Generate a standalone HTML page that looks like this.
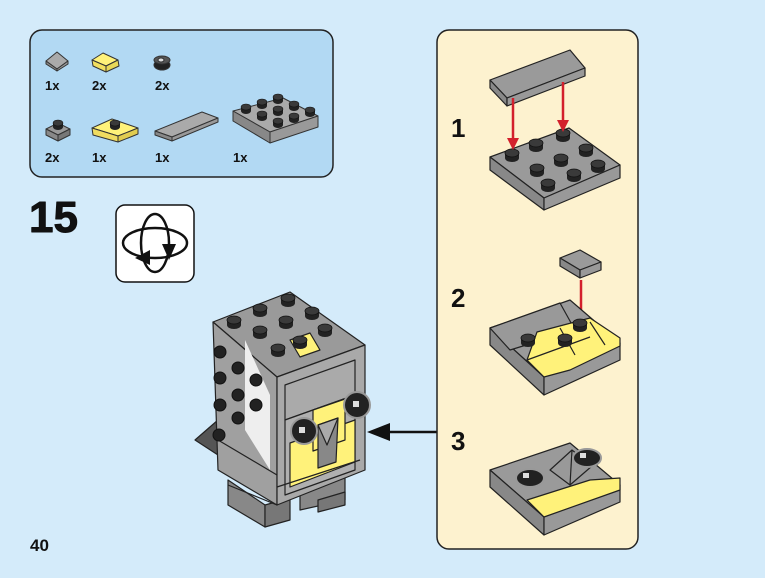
<!DOCTYPE html>
<html><head><meta charset="utf-8"><style>
body{margin:0;width:765px;height:578px;overflow:hidden;background:#d4ebfa;font-family:"Liberation Sans",Arial,sans-serif}
svg{position:absolute;left:0;top:0}
</style></head><body>
<svg width="765" height="578" viewBox="0 0 765 578" xmlns="http://www.w3.org/2000/svg" font-family="Liberation Sans, Arial, sans-serif" font-weight="bold" stroke-linejoin="round">
<defs>
<g id="stud"><ellipse cx="0" cy="3" rx="7" ry="4" fill="#222"/><rect x="-7" y="-2" width="14" height="5" fill="#222"/><ellipse cx="0" cy="-2" rx="7" ry="4" fill="#3a3a3a" stroke="#111" stroke-width="0.8"/></g>
<g id="sstud"><ellipse cx="0" cy="2" rx="5" ry="3" fill="#222"/><rect x="-5" y="-2" width="10" height="4" fill="#222"/><ellipse cx="0" cy="-2" rx="5" ry="3" fill="#3a3a3a" stroke="#111" stroke-width="0.6"/></g>
</defs>
<!-- parts box -->
<rect x="30" y="30" width="303" height="147" rx="12" fill="#b2d9f3" stroke="#222" stroke-width="1.5"/>
<g stroke="#333" stroke-width="1">
<polygon points="46,61 57,52 68,61 57,69" fill="#aaa"/><polygon points="46,61 57,69 57,71 46,64" fill="#888"/><polygon points="57,69 68,61 68,64 57,71" fill="#999"/>
<polygon points="92,60 103,53 118,60 106,66" fill="#fff27a"/><polygon points="92,60 106,66 106,72 93,66" fill="#f2e060"/><polygon points="106,66 118,60 119,66 106,72" fill="#e8d858"/>
<ellipse cx="162" cy="65" rx="8" ry="5" fill="#222"/><ellipse cx="162" cy="60" rx="8" ry="4" fill="#555"/><ellipse cx="161" cy="60" rx="3" ry="2" fill="#ddd"/>
<polygon points="46,129 58,123 70,129 58,135" fill="#999"/><polygon points="46,129 58,135 58,141 46,135" fill="#888"/><polygon points="58,135 70,129 70,135 58,141" fill="#777"/>
<polygon points="92,128 112,119 138,128 118,136" fill="#fff27a"/><polygon points="92,128 118,136 118,142 93,135" fill="#f0dc60"/><polygon points="118,136 138,128 138,134 118,142" fill="#e0cc50"/>
<polygon points="155,131 202,112 218,118 172,137" fill="#aaa"/><polygon points="155,131 172,137 172,141 155,135" fill="#888"/><polygon points="172,137 218,118 218,122 172,141" fill="#999"/>
<polygon points="233,111 283,98 318,116 270,132" fill="#aaa"/><polygon points="233,111 270,132 270,143 233,121" fill="#888"/><polygon points="270,132 318,116 318,127 270,143" fill="#999"/>
</g>
<use href="#sstud" x="58" y="125"/><use href="#sstud" x="115" y="125"/>
<g><use href="#sstud" x="246" y="109"/><use href="#sstud" x="262" y="104"/><use href="#sstud" x="278" y="99"/><use href="#sstud" x="262" y="116"/><use href="#sstud" x="278" y="111"/><use href="#sstud" x="294" y="106"/><use href="#sstud" x="278" y="123"/><use href="#sstud" x="294" y="118"/><use href="#sstud" x="310" y="112"/></g>
<g font-size="13" fill="#111"><text x="45" y="90">1x</text><text x="92" y="90">2x</text><text x="155" y="90">2x</text><text x="45" y="162">2x</text><text x="92" y="162">1x</text><text x="155" y="162">1x</text><text x="233" y="162">1x</text></g>
<text x="29" y="232" font-size="44" fill="#111" stroke="#111" stroke-width="1">15</text>
<!-- rotate icon -->
<rect x="116" y="205" width="78" height="77" rx="9" fill="#fff" stroke="#111" stroke-width="1.5"/>
<g fill="none" stroke="#111" stroke-width="2.5"><ellipse cx="155" cy="243" rx="14" ry="29"/><ellipse cx="155" cy="243" rx="32" ry="15"/></g>
<polygon points="162,244 176,244 169,260" fill="#111"/><polygon points="150,265 150,250 135,258" fill="#111"/>
<!-- main model -->
<g stroke="#222" stroke-width="1.2">
<polygon points="195,440 218,420 218,455" fill="#555"/>
<polygon points="228,480 265,505 265,527 228,505" fill="#888"/><polygon points="265,505 290,498 290,520 265,527" fill="#777"/>
<polygon points="300,490 345,477 345,500 300,510" fill="#888"/><polygon points="318,500 345,492 345,505 318,512" fill="#777"/>
<polygon points="213,322 290,292 365,345 277,377" fill="#9a9a9a"/>
<polygon points="213,322 277,377 277,505 218,470" fill="#a0a0a0"/>
<polygon points="277,377 365,345 365,470 277,505" fill="#a9a9a9"/>
<polygon points="245,340 270,395 270,470 245,430" fill="#eee" stroke="none"/>
<polygon points="285,385 355,360 355,395 285,420" fill="#aaa"/>
<polygon points="285,420 355,395 355,470 285,495" fill="#b0b0b0"/>
<polygon points="290,443 355,420 355,462 290,487" fill="#fff27a"/>
<polygon points="313,410 345,399 345,440 313,451" fill="#fff27a"/>
<polygon points="318,425 338,418 336,462 318,468" fill="#888"/>
<polygon points="318,425 327,445 338,418" fill="#aaa"/>
<polygon points="290,340 310,333 320,350 300,357" fill="#fff27a"/>
<line x1="218" y1="440" x2="277" y2="475"/><line x1="228" y1="485" x2="277" y2="505"/><line x1="277" y1="487" x2="360" y2="460"/>
</g>
<g><use href="#stud" x="234" y="322"/><use href="#stud" x="260" y="310"/><use href="#stud" x="288" y="300"/><use href="#stud" x="260" y="332"/><use href="#stud" x="286" y="322"/><use href="#stud" x="312" y="313"/><use href="#stud" x="278" y="350"/><use href="#stud" x="325" y="330"/><use href="#stud" x="300" y="342"/></g>
<g fill="#222" stroke="#111"><circle cx="220" cy="352" r="6"/><circle cx="220" cy="378" r="6"/><circle cx="220" cy="405" r="6"/><circle cx="219" cy="435" r="6"/><circle cx="238" cy="368" r="6"/><circle cx="238" cy="395" r="6"/><circle cx="238" cy="418" r="6"/><circle cx="256" cy="380" r="6"/><circle cx="256" cy="405" r="6"/></g>
<g stroke="#999" stroke-width="2"><circle cx="304" cy="431" r="13" fill="#222"/><circle cx="357" cy="405" r="13" fill="#222"/></g>
<rect x="299" y="427" width="6" height="6" fill="#ddd"/><rect x="353" y="401" width="6" height="6" fill="#ddd"/>
<!-- arrow -->
<line x1="437" y1="432" x2="380" y2="432" stroke="#111" stroke-width="2.5"/><polygon points="367,432 390,423 390,441" fill="#111"/>
<!-- right panel -->
<rect x="437" y="30" width="201" height="519" rx="12" fill="#fdf2cf" stroke="#222" stroke-width="1.5"/>
<g font-size="26" fill="#111"><text x="451" y="137">1</text><text x="451" y="307">2</text><text x="451" y="450">3</text></g>
<g stroke="#222" stroke-width="1.2">
<polygon points="490,80 570,50 585,68 507,98" fill="#9a9a9a"/><polygon points="490,80 507,98 507,106 490,88" fill="#888"/><polygon points="507,98 585,68 585,76 507,106" fill="#999"/>
<polygon points="490,157 569,128 620,165 544,198" fill="#9a9a9a"/><polygon points="490,157 544,198 544,210 490,170" fill="#888"/><polygon points="544,198 620,165 620,178 544,210" fill="#999"/>
</g>
<g><use href="#stud" x="512" y="155"/><use href="#stud" x="536" y="145"/><use href="#stud" x="563" y="135"/><use href="#stud" x="537" y="170"/><use href="#stud" x="561" y="160"/><use href="#stud" x="586" y="150"/><use href="#stud" x="548" y="185"/><use href="#stud" x="574" y="175"/><use href="#stud" x="598" y="166"/></g>
<g stroke="#d3202c" stroke-width="2.5"><line x1="513" y1="98" x2="513" y2="140"/><line x1="563" y1="82" x2="563" y2="122"/><line x1="581" y1="280" x2="581" y2="318"/></g>
<g fill="#d3202c"><polygon points="507,138 519,138 513,150"/><polygon points="557,120 569,120 563,132"/><polygon points="575,316 587,316 581,328"/></g>
<g stroke="#222" stroke-width="1.2">
<polygon points="560,258 580,250 601,262 580,270" fill="#9a9a9a"/><polygon points="560,258 580,270 580,278 560,266" fill="#888"/><polygon points="580,270 601,262 601,270 580,278" fill="#999"/>
<!-- step2 -->
<polygon points="490,328 570,300 620,343 544,377" fill="#9a9a9a"/><polygon points="490,328 544,377 544,395 490,345" fill="#888"/><polygon points="544,377 620,343 620,360 544,395" fill="#999"/>
<polygon points="490,328 560,303 575,330 510,350" fill="#999"/>
<polygon points="537,332 590,318 620,338 620,346 570,370 544,377 527,360" fill="#fff27a"/>
<line x1="560" y1="328" x2="575" y2="355"/><line x1="590" y1="322" x2="605" y2="345"/><line x1="527" y1="360" x2="590" y2="337"/>
<!-- step3 -->
<polygon points="490,470 570,443 620,485 544,517" fill="#9a9a9a"/><polygon points="490,470 544,517 544,535 490,487" fill="#888"/><polygon points="544,517 620,485 620,502 544,535" fill="#999"/>
<polygon points="527,500 590,480 620,478 620,490 544,517" fill="#fff27a"/>
<polygon points="550,470 572,450 592,466 570,485" fill="#999"/><line x1="572" y1="450" x2="570" y2="485"/>
</g>
<use href="#stud" x="528" y="340"/><use href="#stud" x="580" y="325"/><use href="#stud" x="565" y="340"/>
<g stroke="#999" stroke-width="2"><ellipse cx="530" cy="478" rx="14" ry="9" fill="#222"/><ellipse cx="587" cy="458" rx="14" ry="9" fill="#222"/></g>
<rect x="523" y="473" width="6" height="5" fill="#ddd"/><rect x="580" y="453" width="6" height="5" fill="#ddd"/>
<text x="30" y="551" font-size="17" fill="#111">40</text>
</svg>
</body></html>
